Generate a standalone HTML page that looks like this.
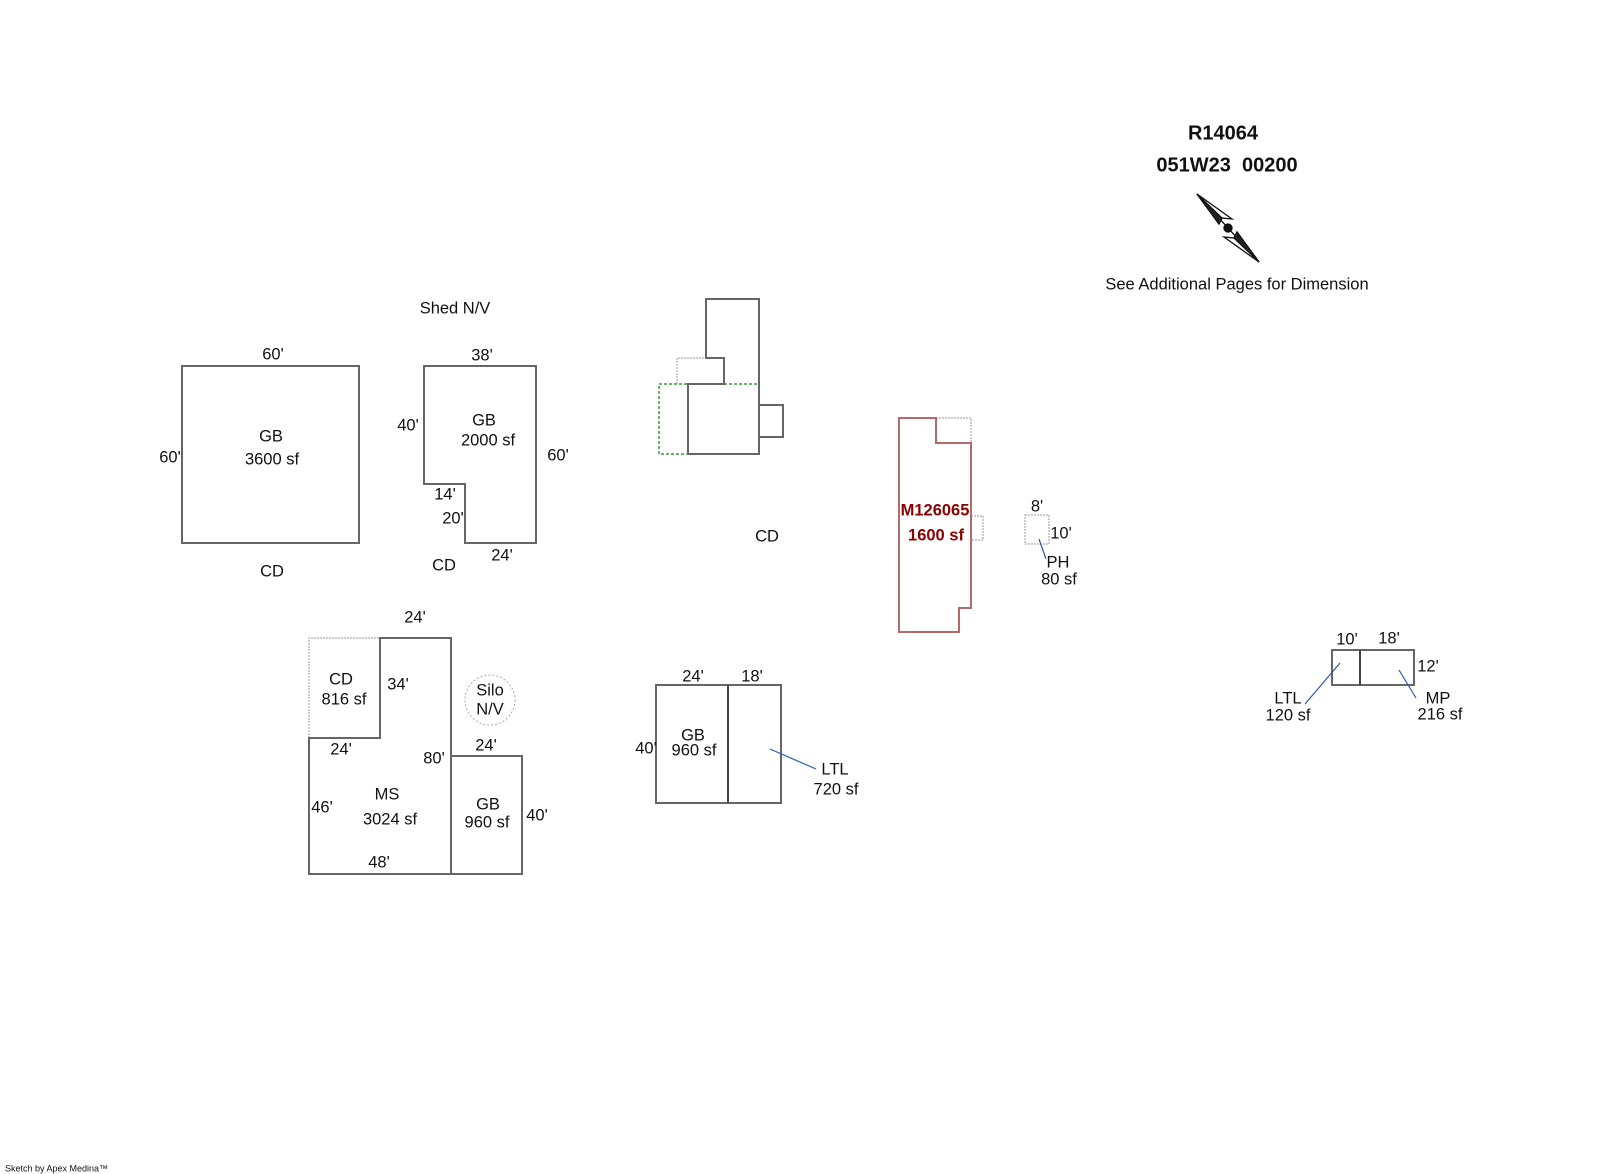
<!DOCTYPE html>
<html><head><meta charset="utf-8"><style>
html,body{margin:0;padding:0;background:#fff;}
svg{display:block;}
text{font-family:"Liberation Sans",sans-serif;font-size:16.5px;fill:#111;text-anchor:middle;dominant-baseline:middle;white-space:pre;}
.s{fill:none;stroke:#666;stroke-width:2;}
.g{fill:none;stroke:#bbb;stroke-width:1.5;stroke-dasharray:2 1;}
.b{stroke:#2a5ca8;stroke-width:1.2;}
</style></head><body>
<svg width="1600" height="1174" viewBox="0 0 1600 1174" xmlns="http://www.w3.org/2000/svg">
<text x="1223" y="134" style="font-size:20px;font-weight:bold">R14064</text>
<text x="1227" y="166" style="font-size:20px;font-weight:bold">051W23  00200</text>
<g fill="none" stroke="#111" stroke-width="1.3">
<line x1="1197" y1="194" x2="1259" y2="262"/>
<polygon points="1197,194 1232,219 1222,218 1219,224" fill="#fff"/>
<polygon points="1197,194 1222,218 1219,224" fill="#222"/>
<polygon points="1259,262 1224,237 1234,238 1237,232" fill="#fff"/>
<polygon points="1259,262 1234,238 1237,232" fill="#222"/>
<circle cx="1228" cy="228" r="4" fill="#111"/>
</g>
<text x="1237" y="285">See Additional Pages for Dimension</text>
<text x="455" y="309">Shed N/V</text>

<rect x="182" y="366" width="177" height="177" class="s"/>
<text x="273" y="355">60'</text>
<text x="170" y="458">60'</text>
<text x="271" y="437">GB</text>
<text x="272" y="460">3600 sf</text>
<text x="272" y="572">CD</text>

<polygon points="424,366 536,366 536,543 465,543 465,484 424,484" class="s"/>
<text x="482" y="356">38'</text>
<text x="408" y="426">40'</text>
<text x="484" y="421">GB</text>
<text x="488" y="441">2000 sf</text>
<text x="558" y="456">60'</text>
<text x="445" y="495">14'</text>
<text x="453" y="519">20'</text>
<text x="502" y="556">24'</text>
<text x="444" y="566">CD</text>

<polyline points="677,384 677,358 706,358" class="g"/>
<rect x="659" y="384" width="100" height="70" fill="none" stroke="#3a9a3a" stroke-width="1.5" stroke-dasharray="3 2"/>
<polyline points="688,454 688,384 724,384 724,358 706,358 706,299 759,299 759,454 688,454" class="s" stroke="#555"/>
<polyline points="759,405 783,405 783,437 759,437" class="s"/>
<text x="767" y="537">CD</text>

<polyline points="936,418 971,418 971,443" class="g"/>
<rect x="971" y="516" width="12" height="24" class="g"/>
<polygon points="899,418 936,418 936,443 971,443 971,608 959,608 959,632 899,632" fill="none" stroke="#b36a6a" stroke-width="2"/>
<text x="935" y="511" style="fill:#8b0000;font-weight:bold">M126065</text>
<text x="936" y="536" style="fill:#8b0000;font-weight:bold">1600 sf</text>

<rect x="1025" y="515" width="24" height="29" class="g"/>
<text x="1037" y="507">8'</text>
<text x="1061" y="534">10'</text>
<line x1="1039" y1="539" x2="1046" y2="559" class="b"/>
<text x="1058" y="563">PH</text>
<text x="1059" y="580">80 sf</text>

<!-- MS group -->
<polyline points="309,738 309,638 380,638" class="g"/>
<polygon points="380,638 451,638 451,874 309,874 309,738 380,738" class="s"/>
<rect x="451" y="756" width="71" height="118" class="s"/>
<circle cx="490" cy="700" r="25" fill="none" stroke="#aaa" stroke-width="1" stroke-dasharray="2 2"/>
<text x="415" y="618">24'</text>
<text x="341" y="680">CD</text>
<text x="344" y="700">816 sf</text>
<text x="398" y="685">34'</text>
<text x="341" y="750">24'</text>
<text x="434" y="759">80'</text>
<text x="387" y="795">MS</text>
<text x="390" y="820">3024 sf</text>
<text x="322" y="808">46'</text>
<text x="379" y="863">48'</text>
<text x="486" y="746">24'</text>
<text x="488" y="805">GB</text>
<text x="487" y="823">960 sf</text>
<text x="537" y="816">40'</text>
<text x="490" y="691">Silo</text>
<text x="490" y="710">N/V</text>

<!-- GB 960 + LTL -->
<rect x="656" y="685" width="125" height="118" class="s"/>
<line x1="728" y1="685" x2="728" y2="803" stroke="#444" stroke-width="2"/>
<text x="693" y="677">24'</text>
<text x="752" y="677">18'</text>
<text x="646" y="749">40'</text>
<text x="693" y="736">GB</text>
<text x="694" y="751">960 sf</text>
<line x1="770" y1="749" x2="816" y2="769" class="b"/>
<text x="835" y="770">LTL</text>
<text x="836" y="790">720 sf</text>

<rect x="1332" y="650" width="82" height="35" class="s"/>
<line x1="1360" y1="650" x2="1360" y2="685" stroke="#444" stroke-width="2"/>
<text x="1347" y="640">10'</text>
<text x="1389" y="639">18'</text>
<text x="1428" y="667">12'</text>
<line x1="1340" y1="663" x2="1305" y2="704" class="b"/>
<text x="1288" y="699">LTL</text>
<text x="1288" y="716">120 sf</text>
<line x1="1399" y1="670" x2="1416" y2="698" class="b"/>
<text x="1438" y="699">MP</text>
<text x="1440" y="715">216 sf</text>

<text x="5" y="1169" style="font-size:9px;text-anchor:start">Sketch by Apex Medina™</text>
</svg>
</body></html>
